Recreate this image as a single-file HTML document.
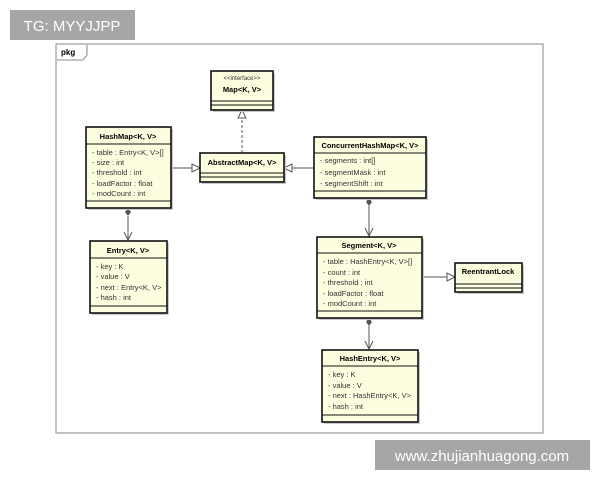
<!DOCTYPE html>
<html><head><meta charset="utf-8"><style>
body{margin:0;width:600px;height:480px;background:#fff;overflow:hidden}
svg{display:block}
text{font-family:"Liberation Sans",sans-serif;font-size:7.5px;fill:#333}
.b{font-weight:bold;fill:#000}
.box{fill:#fdfde0;stroke:#111;stroke-width:1.6}
.sh{fill:#c8c8c8}
</style></head><body>
<svg width="600" height="480" viewBox="0 0 600 480">
<rect x="56" y="44" width="487" height="389" fill="#fff" stroke="#999" stroke-width="1.2"/>
<path d="M57 60 H83 L87 55 V45" fill="none" stroke="#666" stroke-width="0.8"/>
<text x="61" y="55" class="b" style="font-size:8px">pkg</text>

<!-- connectors -->
<g stroke="#555" stroke-width="1" fill="none">
<line x1="242" y1="153" x2="242" y2="118" stroke-dasharray="3,2"/>
<line x1="171" y1="168" x2="193" y2="168"/>
<line x1="314" y1="168" x2="292" y2="168"/>
<line x1="128" y1="216" x2="128" y2="240"/>
<line x1="369" y1="206" x2="369" y2="236"/>
<line x1="369" y1="326" x2="369" y2="349"/>
<line x1="422" y1="277" x2="447" y2="277"/>
<polyline points="124,232 128,240 132,232"/>
<polyline points="365,228 369,236 373,228"/>
<polyline points="365,341 369,349 373,341"/>
</g>
<g stroke="#555" stroke-width="1" fill="#fff">
<polygon points="242,110 238,118 246,118"/>
<polygon points="200,168 192,164 192,172"/>
<polygon points="284,168 292,164 292,172"/>
<polygon points="455,277 447,273 447,281"/>
</g>
<g fill="#555">
<polygon points="128,208 131,212 128,216 125,212"/>
<polygon points="369,198 372,202 369,206 366,202"/>
<polygon points="369,318 372,322 369,326 366,322"/>
</g>

<!-- Map -->
<rect class="sh" x="213" y="73" width="62" height="39"/>
<rect class="box" x="211" y="71" width="62" height="39"/>
<text x="242" y="80" text-anchor="middle" style="font-size:6px">&lt;&lt;interface&gt;&gt;</text>
<text x="242" y="92" text-anchor="middle" class="b">Map&lt;K, V&gt;</text>
<line x1="211" y1="101" x2="273" y2="101" stroke="#111"/>
<line x1="211" y1="105" x2="273" y2="105" stroke="#111"/>

<!-- HashMap -->
<rect class="sh" x="88" y="129" width="85" height="81"/>
<rect class="box" x="86" y="127" width="85" height="81"/>
<text x="128" y="139" text-anchor="middle" class="b">HashMap&lt;K, V&gt;</text>
<line x1="86" y1="144" x2="171" y2="144" stroke="#111"/>
<text x="92" y="155">- table : Entry&lt;K, V&gt;[]</text>
<text x="92" y="165">- size : int</text>
<text x="92" y="175">- threshold : int</text>
<text x="92" y="186">- loadFactor : float</text>
<text x="92" y="196">- modCount : int</text>
<line x1="86" y1="201" x2="171" y2="201" stroke="#111"/>

<!-- AbstractMap -->
<rect class="sh" x="202" y="155" width="84" height="29"/>
<rect class="box" x="200" y="153" width="84" height="29"/>
<text x="242" y="165" text-anchor="middle" class="b">AbstractMap&lt;K, V&gt;</text>
<line x1="200" y1="173" x2="284" y2="173" stroke="#111"/>
<line x1="200" y1="177" x2="284" y2="177" stroke="#111"/>

<!-- Entry -->
<rect class="sh" x="92" y="243" width="77" height="72"/>
<rect class="box" x="90" y="241" width="77" height="72"/>
<text x="128" y="253" text-anchor="middle" class="b">Entry&lt;K, V&gt;</text>
<line x1="90" y1="258" x2="167" y2="258" stroke="#111"/>
<text x="96" y="269">- key : K</text>
<text x="96" y="279">- value : V</text>
<text x="96" y="290">- next : Entry&lt;K, V&gt;</text>
<text x="96" y="300">- hash : int</text>
<line x1="90" y1="306" x2="167" y2="306" stroke="#111"/>

<!-- CHM -->
<rect class="sh" x="316" y="139" width="112" height="61"/>
<rect class="box" x="314" y="137" width="112" height="61"/>
<text x="370" y="148" text-anchor="middle" class="b">ConcurrentHashMap&lt;K, V&gt;</text>
<line x1="314" y1="153" x2="426" y2="153" stroke="#111"/>
<text x="320" y="163">- segments : int[]</text>
<text x="320" y="175">- segmentMask : int</text>
<text x="320" y="186">- segmentShift : int</text>
<line x1="314" y1="191" x2="426" y2="191" stroke="#111"/>

<!-- Segment -->
<rect class="sh" x="319" y="239" width="105" height="81"/>
<rect class="box" x="317" y="237" width="105" height="81"/>
<text x="369" y="248" text-anchor="middle" class="b">Segment&lt;K, V&gt;</text>
<line x1="317" y1="253" x2="422" y2="253" stroke="#111"/>
<text x="323" y="264">- table : HashEntry&lt;K, V&gt;[]</text>
<text x="323" y="275">- count : int</text>
<text x="323" y="285">- threshold : int</text>
<text x="323" y="296">- loadFactor : float</text>
<text x="323" y="306">- modCount : int</text>
<line x1="317" y1="311" x2="422" y2="311" stroke="#111"/>

<!-- ReentrantLock -->
<rect class="sh" x="457" y="265" width="67" height="29"/>
<rect class="box" x="455" y="263" width="67" height="29"/>
<text x="488" y="274" text-anchor="middle" class="b">ReentrantLock</text>
<line x1="455" y1="284" x2="522" y2="284" stroke="#111"/>
<line x1="455" y1="288" x2="522" y2="288" stroke="#111"/>

<!-- HashEntry -->
<rect class="sh" x="324" y="352" width="96" height="72"/>
<rect class="box" x="322" y="350" width="96" height="72"/>
<text x="370" y="361" text-anchor="middle" class="b">HashEntry&lt;K, V&gt;</text>
<line x1="322" y1="366" x2="418" y2="366" stroke="#111"/>
<text x="328" y="377">- key : K</text>
<text x="328" y="388">- value : V</text>
<text x="328" y="398">- next : HashEntry&lt;K, V&gt;</text>
<text x="328" y="409">- hash : int</text>
<line x1="322" y1="415" x2="418" y2="415" stroke="#111"/>

<!-- watermarks -->
<rect x="10" y="10" width="125" height="30" fill="#a6a6a6"/>
<text x="72" y="31" text-anchor="middle" style="font-size:15px;fill:#fff">TG: MYYJJPP</text>
<rect x="375" y="440" width="215" height="30" fill="#a6a6a6"/>
<text x="482" y="461" text-anchor="middle" style="font-size:15px;fill:#fff">www.zhujianhuagong.com</text>
</svg>
</body></html>
